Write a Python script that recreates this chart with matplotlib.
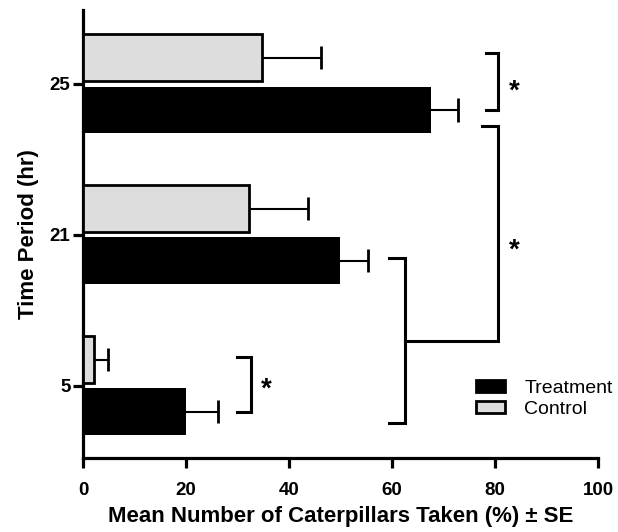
import matplotlib
matplotlib.use("Agg")
import matplotlib.pyplot as plt
import numpy as np
from matplotlib.patches import Patch

plt.rcParams['font.family'] = ['Liberation Sans', 'DejaVu Sans']

periods = ["5", "21", "25"]
treatment = [20.0, 49.9, 67.5]
treatment_se = [6.2, 5.5, 5.3]
control = [2.2, 32.3, 34.8]
control_se = [2.7, 11.4, 11.4]
xticks = [0, 20, 40, 60, 80, 100]

fig = plt.figure(figsize=(6.18, 5.32), dpi=100)
ax = fig.add_axes([83/618, (532-458)/532, (598-83)/618, (458-10)/532])

y = np.arange(len(periods))
h = 0.31
off = 0.173
lw_sp = 2.3

ax.barh(y - off, treatment, height=h, color='black', edgecolor='black', linewidth=0, zorder=3)
ax.barh(y + off, control, height=h, color='#dcdddc', edgecolor='black', linewidth=2.0, zorder=3)

cap = 0.077
def errbars(vals, ses, ypos):
    vals = np.asarray(vals); ses = np.asarray(ses)
    ax.hlines(ypos, vals, vals + ses, color='black', lw=1.5, zorder=2)
    ax.vlines(vals + ses, ypos - cap, ypos + cap, color='black', lw=2.0, zorder=2)
errbars(treatment, treatment_se, y - off)
errbars(control, control_se, y + off)

ax.set_xlim(0, 100)
ax.set_ylim(-0.48, 2.49)
ax.set_xticks(xticks)
ax.set_xticklabels([str(v) for v in xticks], fontsize=13.5, fontweight='bold')
ax.set_yticks(y)
ax.set_yticklabels(periods, fontsize=13.5, fontweight='bold')
ax.set_xlabel("Mean Number of Caterpillars Taken (%) ± SE", fontsize=16, fontweight='bold', labelpad=5)
ax.set_ylabel("Time Period (hr)", fontsize=16, fontweight='bold', labelpad=8)
for s in ['top', 'right']:
    ax.spines[s].set_visible(False)
for s in ['left', 'bottom']:
    ax.spines[s].set_linewidth(lw_sp)
ax.tick_params(axis='both', width=lw_sp, length=7)
ax.tick_params(axis='x', pad=10)
ax.tick_params(axis='y', pad=2)

blw = 2.2
def bracket(x, y0, y1, arm):
    ax.plot([x - arm, x, x, x - arm], [y1, y1, y0, y0], color='black', lw=blw,
            solid_joinstyle='miter', clip_on=False)

def star(x, yy):
    ax.text(x, yy, "*", fontsize=20, fontweight='bold', ha='center', va='center')

# 5 hr bracket
i = 0
bx = max(treatment[i] + treatment_se[i], control[i] + control_se[i]) + 6.4
bracket(bx, i - off, i + off + 0.015, 2.7)
star(bx + 2.9, i - 0.03)
# 25 hr bracket
i = 2
bx2 = max(treatment[i] + treatment_se[i], control[i] + control_se[i]) + 7.8
bracket(bx2, i - off, i + off + 0.035, 2.3)
star(bx2 + 3.1, i - 0.053)
# 21 & 5 combined bracket
lx = 62.5
top_l, bot_l = 0.847, -0.247
bracket(lx, bot_l, top_l, 3.0)
mid = 0.293
# big bracket from combined to 25 treatment
ax.plot([lx, bx2, bx2, bx2 - 3.1], [mid, mid, 1.72, 1.72], color='black', lw=blw,
        solid_joinstyle='miter')
star(bx2 + 3.1, 0.893)

handles = [Patch(facecolor='black', edgecolor='black', linewidth=2, label='Treatment'),
           Patch(facecolor='#dcdddc', edgecolor='black', linewidth=2, label='Control')]
fig.legend(handles=handles, loc='center left', bbox_to_anchor=(468/618, (532-399)/532),
           frameon=False, fontsize=14, handlelength=1.5, handleheight=0.57,
           handletextpad=1.0, labelspacing=0.2, borderaxespad=0)

fig.savefig("out.png", dpi=100)
